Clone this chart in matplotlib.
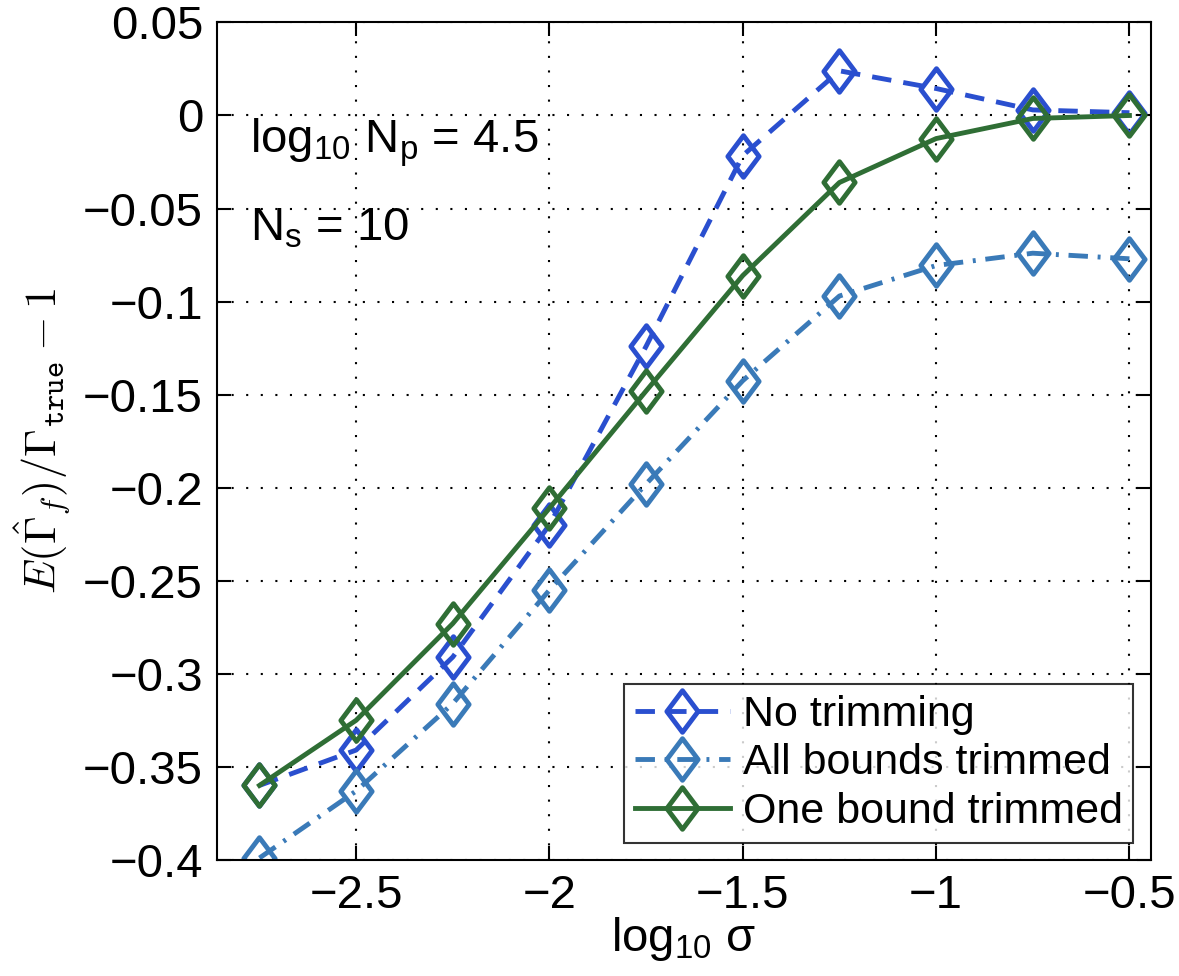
import matplotlib.pyplot as plt
from matplotlib.path import Path

plt.rcParams['font.family'] = ['Liberation Sans', 'DejaVu Sans']
plt.rcParams['mathtext.fontset'] = 'custom'
plt.rcParams['mathtext.rm'] = 'Liberation Sans'
plt.rcParams['mathtext.it'] = 'Liberation Sans:italic'

log_sigma = [-2.75, -2.5, -2.25, -2.0, -1.75, -1.5, -1.25, -1.0, -0.75, -0.5]
no_trim = [-0.360, -0.341, -0.291, -0.220, -0.124, -0.0215, 0.024, 0.0145, 0.003, 0.0015]
all_trim = [-0.399, -0.363, -0.316, -0.255, -0.198, -0.1425, -0.097, -0.0806, -0.074, -0.077]
one_trim = [-0.360, -0.325, -0.273, -0.211, -0.148, -0.086, -0.036, -0.0124, -0.0016, 0.0]

xticks = [-2.5, -2, -1.5, -1, -0.5]
yticks = [0.05, 0, -0.05, -0.1, -0.15, -0.2, -0.25, -0.3, -0.35, -0.4]

# matlab style diamond, taller than wide
diamond = Path([(0, 1), (0.75, 0), (0, -1), (-0.75, 0), (0, 1)],
               [Path.MOVETO, Path.LINETO, Path.LINETO, Path.LINETO, Path.CLOSEPOLY])

fig = plt.figure(figsize=(11.79, 9.76), dpi=100)
ax = fig.add_axes([0.184, 0.119, 0.792, 0.858])

common = dict(marker=diamond, markersize=30, markerfacecolor='none', markeredgewidth=3.5, linewidth=3.5)
ax.plot(log_sigma, no_trim, linestyle=(0, (4, 2.5)), color='#2a4fcf', label='No trimming', **common)
ax.plot(log_sigma, all_trim, linestyle=(0, (4, 2, 0.6, 2)), color='#3a7ab8', label='All bounds trimmed', **common)
ax.plot(log_sigma, one_trim, linestyle='-', color='#2f6e35', label='One bound trimmed', **common)

ax.set_xlim(-2.86, -0.445)
ax.set_ylim(-0.4, 0.05)
ax.set_xticks(xticks)
ax.set_xticklabels(['\u22122.5', '\u22122', '\u22121.5', '\u22121', '\u22120.5'])
ax.set_yticks(yticks)
ax.set_yticklabels(['0.05', '0', '\u22120.05', '\u22120.1', '\u22120.15', '\u22120.2',
                    '\u22120.25', '\u22120.3', '\u22120.35', '\u22120.4'])
ax.tick_params(direction='in', length=10, width=1.5, top=True, right=True, labelsize=34, pad=10)
ax.grid(True, linestyle=(0, (1, 6)), color='black', linewidth=1.5)
for s in ax.spines.values():
    s.set_linewidth(1.5)

ax.set_xlabel(r'log$_{\mathrm{10}}$ σ', fontsize=34, labelpad=-2)
ax.set_ylabel(r'$E(\hat{\Gamma}_f)/\Gamma_{\mathtt{true}}-1$', fontsize=32, labelpad=8,
              math_fontfamily='cm')

ax.text(0.035, 0.845, r'log$_{\mathrm{10}}$ N$_{\mathrm{p}}$ = 4.5', transform=ax.transAxes, fontsize=34)
ax.text(0.035, 0.74, r'N$_{\mathrm{s}}$ = 10', transform=ax.transAxes, fontsize=34)

leg = ax.legend(loc='lower right', fontsize=31, frameon=True, fancybox=False, edgecolor='black',
                handlelength=2.2, handletextpad=0.3, borderpad=0.25, labelspacing=0.2,
                borderaxespad=0.4)
leg.get_frame().set_linewidth(1.5)

plt.savefig('out.png', dpi=100)
